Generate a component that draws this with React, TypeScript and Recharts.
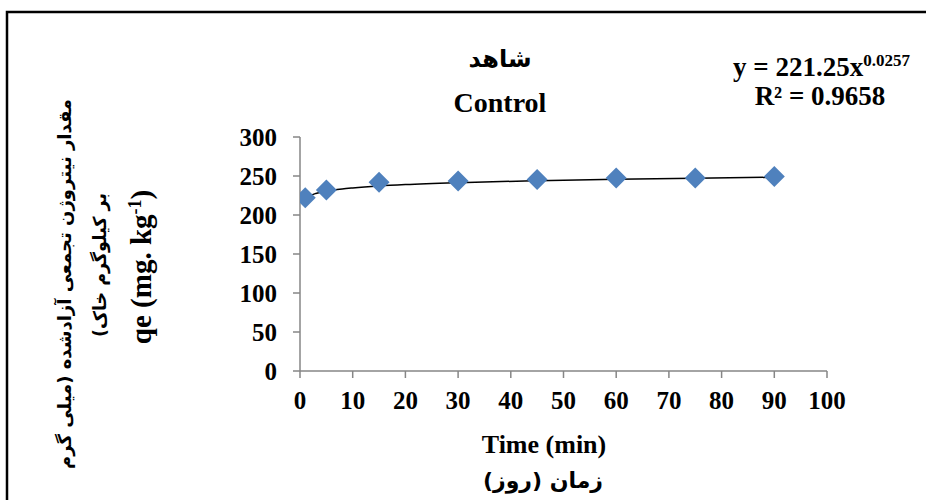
import React from 'react';
import { ComposedChart, Scatter, Line, XAxis, YAxis } from 'recharts';

// Measured points (time in min, qe in mg/kg)
const timeMin = [1, 5, 15, 30, 45, 60, 75, 90];
const qeValues = [222, 232, 242, 243.5, 245.5, 247.5, 247.5, 249.5];

// Power trendline (y = 221.25x^0.0257)
const trendTime = [1, 2, 3, 5, 8, 10, 15, 20, 30, 45, 60, 75, 90];
const trendQe = [221.3, 225.2, 227.6, 230.6, 233.4, 234.7, 237.2, 239.0, 241.5, 244.0, 245.8, 247.2, 248.4];

const xTicks = [0, 10, 20, 30, 40, 50, 60, 70, 80, 90, 100];
const yTicks = [0, 50, 100, 150, 200, 250, 300];

const titleFa = 'شاهد';
const titleEn = 'Control';
const eqMain = 'y = 221.25x';
const eqExp = '0.0257';
const eqR2 = 'R² = 0.9658';
const yLabelFa1 = 'مقدار نیتروژن تجمعی آزادشده (میلی گرم';
const yLabelFa2 = 'بر کیلوگرم خاک)';
const xLabelEn = 'Time (min)';
const xLabelFa = 'زمان (روز)';

const points = timeMin.map((t, i) => ({ t, qe: qeValues[i] }));
const trend = trendTime.map((t, i) => ({ t, fit: trendQe[i] }));

const SERIF = "'Liberation Serif', 'Times New Roman', serif";
const FA = "'DejaVu Sans', sans-serif";
const AXIS = '#868686';
const BLUE = '#4F81BD';

const Diamond = (props: any) => {
  const { cx, cy } = props;
  if (cx == null || cy == null) return null;
  const r = 10.5;
  return (
    <polygon
      points={`${cx},${cy - r} ${cx + r},${cy} ${cx},${cy + r} ${cx - r},${cy}`}
      fill={BLUE}
      stroke="none"
    />
  );
};

const tickStyle = { fill: '#000', fontSize: 25, fontWeight: 'bold', fontFamily: SERIF };

export default function App() {
  return (
    <div style={{ position: 'absolute', left: 0, top: 0, width: 926, height: 500, background: '#fff' }}>
      <ComposedChart
        width={926}
        height={500}
        margin={{ top: 137, right: 99, bottom: 89, left: 240 }}
      >
        <XAxis
          dataKey="t"
          type="number"
          domain={[0, 100]}
          ticks={xTicks}
          interval={0}
          height={40}
          tick={tickStyle}
          tickSize={7}
          tickMargin={13}
          axisLine={{ stroke: AXIS, strokeWidth: 1.5 }}
          tickLine={{ stroke: AXIS, strokeWidth: 1.5 }}
          allowDataOverflow
        />
        <YAxis
          type="number"
          domain={[0, 300]}
          ticks={yTicks}
          interval={0}
          width={60}
          tick={tickStyle}
          tickSize={7}
          tickMargin={16}
          axisLine={{ stroke: AXIS, strokeWidth: 1.5 }}
          tickLine={{ stroke: AXIS, strokeWidth: 1.5 }}
        />
        <Scatter
          data={points}
          dataKey="qe"
          shape={<Diamond />}
          isAnimationActive={false}
        />
        <Line
          data={trend}
          dataKey="fit"
          type="monotone"
          stroke="#000"
          strokeWidth={1.5}
          dot={false}
          activeDot={false}
          isAnimationActive={false}
        />
      </ComposedChart>
      <svg
        width={926}
        height={500}
        style={{ position: 'absolute', left: 0, top: 0, pointerEvents: 'none' }}
      >
        <path d="M7,500 V12 H926" fill="none" stroke="#000" strokeWidth={2.5} />
        <text x={500} y={67} textAnchor="middle" fontFamily={FA} fontWeight="bold" fontSize={24} direction="rtl">
          {titleFa}
        </text>
        <text x={500} y={112} textAnchor="middle" fontFamily={SERIF} fontWeight="bold" fontSize={28}>
          {titleEn}
        </text>
        <text x={733} y={76} textAnchor="start" fontFamily={SERIF} fontWeight="bold" fontSize={27}>
          {eqMain}
          <tspan dy={-10} fontSize={17}>{eqExp}</tspan>
        </text>
        <text x={820} y={105} textAnchor="middle" fontFamily={SERIF} fontWeight="bold" fontSize={27}>
          {eqR2}
        </text>
        <text
          transform="translate(71,284) rotate(-90)"
          textAnchor="middle"
          fontFamily={FA}
          fontWeight="bold"
          fontSize={18}
          direction="rtl"
          textLength={370}
          lengthAdjust="spacingAndGlyphs"
        >
          {yLabelFa1}
        </text>
        <text
          transform="translate(106,265) rotate(-90)"
          textAnchor="middle"
          fontFamily={FA}
          fontWeight="bold"
          fontSize={18}
          direction="rtl"
          textLength={144}
          lengthAdjust="spacingAndGlyphs"
        >
          {yLabelFa2}
        </text>
        <text transform="translate(151,267) rotate(-90)" textAnchor="middle" fontFamily={SERIF} fontWeight="bold" fontSize={29}>
          qe (mg. kg
          <tspan dy={-10} fontSize={18}>-1</tspan>
          <tspan dy={10}>)</tspan>
        </text>
        <text x={544} y={453} textAnchor="middle" fontFamily={SERIF} fontWeight="bold" fontSize={26}>
          {xLabelEn}
        </text>
        <text x={543} y={488} textAnchor="middle" fontFamily={FA} fontWeight="bold" fontSize={22} direction="rtl">
          {xLabelFa}
        </text>
      </svg>
    </div>
  );
}
